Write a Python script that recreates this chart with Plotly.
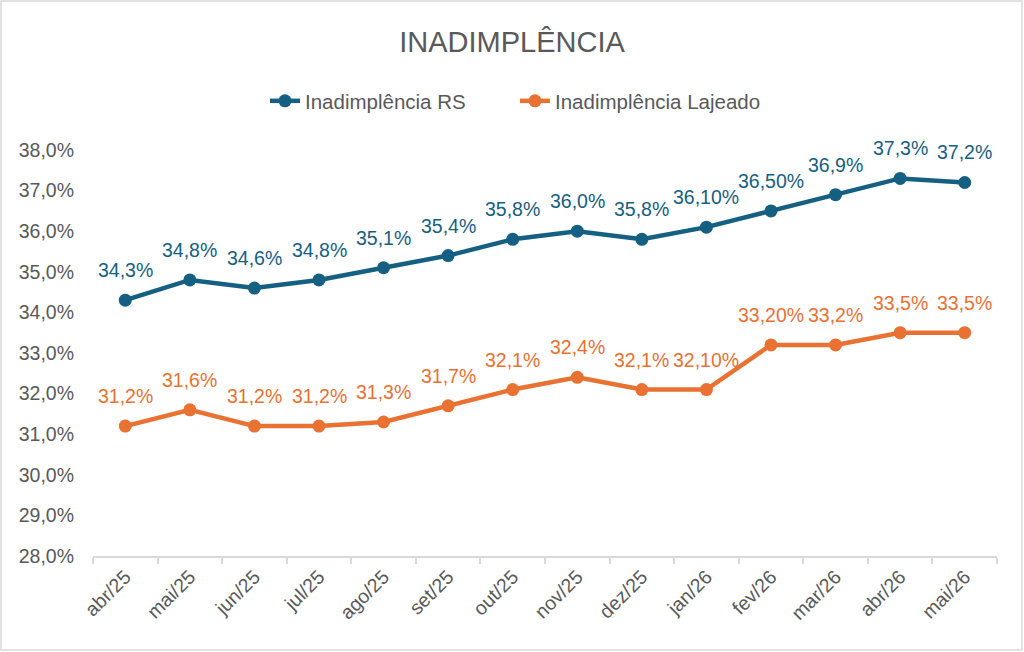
import plotly.graph_objects as go

meses = ["abr/25", "mai/25", "jun/25", "jul/25", "ago/25", "set/25", "out/25",
         "nov/25", "dez/25", "jan/26", "fev/26", "mar/26", "abr/26", "mai/26"]

inad_rs = [0.343, 0.348, 0.346, 0.348, 0.351, 0.354, 0.358,
           0.360, 0.358, 0.361, 0.365, 0.369, 0.373, 0.372]
inad_lajeado = [0.312, 0.316, 0.312, 0.312, 0.313, 0.317, 0.321,
                0.324, 0.321, 0.321, 0.332, 0.332, 0.335, 0.335]

rotulos_rs = ["34,3%", "34,8%", "34,6%", "34,8%", "35,1%", "35,4%", "35,8%",
              "36,0%", "35,8%", "36,10%", "36,50%", "36,9%", "37,3%", "37,2%"]
rotulos_lajeado = ["31,2%", "31,6%", "31,2%", "31,2%", "31,3%", "31,7%", "32,1%",
                   "32,4%", "32,1%", "32,10%", "33,20%", "33,2%", "33,5%", "33,5%"]

AZUL = "#156082"
LARANJA = "#E97132"
CINZA = "#595959"
FONTE = "Liberation Sans"

fig = go.Figure()

fig.add_trace(go.Scatter(
    x=meses, y=inad_rs, name="Inadimplência RS", mode="lines+markers",
    line=dict(color=AZUL, width=4.5), marker=dict(color=AZUL, size=13),
    cliponaxis=False))
fig.add_trace(go.Scatter(
    x=meses, y=inad_lajeado, name="Inadimplência Lajeado", mode="lines+markers",
    line=dict(color=LARANJA, width=4.5), marker=dict(color=LARANJA, size=13),
    cliponaxis=False))

# rótulos de dados acima dos pontos
for serie, rotulos, cor in [(inad_rs, rotulos_rs, AZUL), (inad_lajeado, rotulos_lajeado, LARANJA)]:
    for mes, v, txt in zip(meses, serie, rotulos):
        fig.add_annotation(x=mes, y=v, text=txt, showarrow=False, yshift=30,
                           font=dict(color=cor, size=19.5, family=FONTE))

L, R, T, B = 93, 27, 150, 96
W, H = 1024, 652
pw, ph = W - L - R, H - T - B

fig.update_layout(
    width=W, height=H,
    margin=dict(l=L, r=R, t=T, b=B),
    paper_bgcolor="white", plot_bgcolor="white",
    separators=",.",
    font=dict(family=FONTE, color=CINZA, size=15),
    title=dict(text="INADIMPLÊNCIA", x=0.5, xref="container", xanchor="center",
               y=1 - 42 / H, yref="container", yanchor="middle",
               font=dict(size=29, color=CINZA, family=FONTE)),
    legend=dict(orientation="h", x=(515 - L) / pw, xanchor="center",
                y=1 + 49 / ph, yanchor="middle", entrywidth=205, entrywidthmode="pixels",
                font=dict(size=20.5, color=CINZA, family=FONTE)),
    showlegend=True,
    xaxis=dict(range=[-0.5, len(meses) - 0.5], showgrid=False, showline=True,
               linecolor="#D9D9D9", linewidth=1.5,
               ticks="outside", tickson="boundaries", ticklen=6, tickcolor="#D9D9D9",
               tickwidth=1.5, tickangle=-45, automargin=False,
               tickfont=dict(size=19.5, color=CINZA)),
    yaxis=dict(range=[0.28, 0.38], dtick=0.01, tickformat=".1%", showgrid=False,
               showline=False, zeroline=False, ticks="", ticklabelstandoff=18,
               automargin=False, tickfont=dict(size=19.5, color=CINZA)),
    shapes=[dict(type="rect", xref="paper", yref="paper",
                 x0=-(L - 1) / pw, x1=1 + (R - 2) / pw,
                 y0=-(B - 2) / ph, y1=1 + (T - 1) / ph,
                 line=dict(color="#D9D9D9", width=1.5), layer="below")],
)

fig.write_html("out.html", config={"displayModeBar": False},
               post_script="document.body.style.margin='0';")
